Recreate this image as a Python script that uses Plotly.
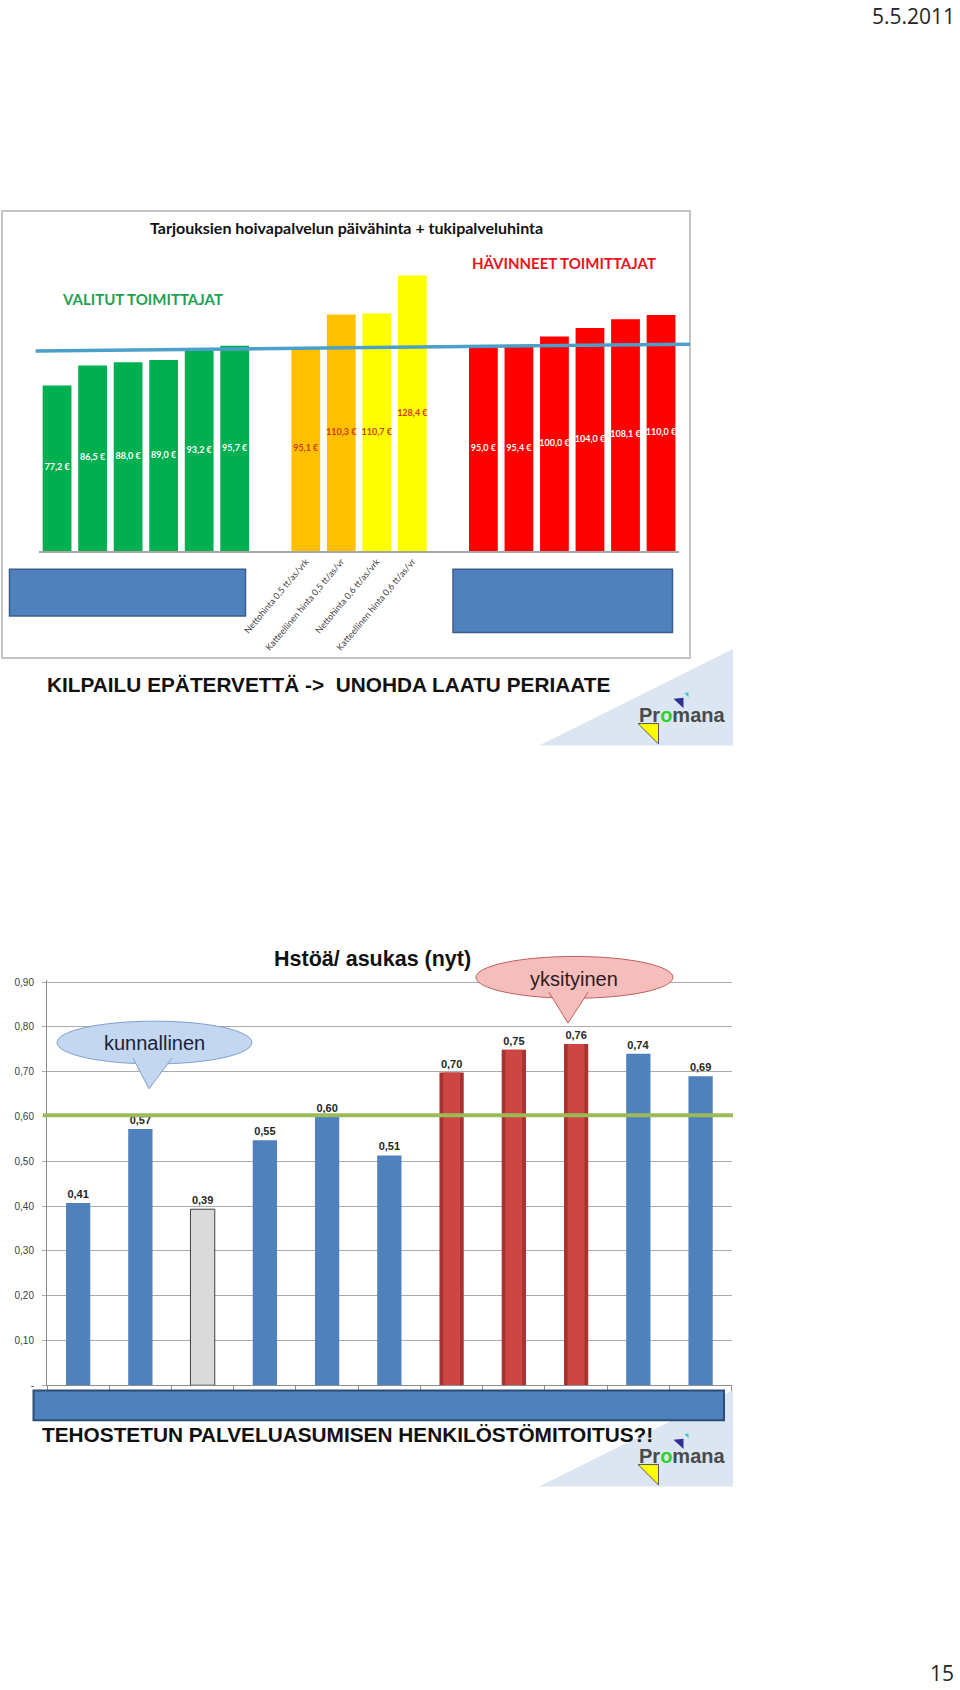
import plotly.graph_objects as go

W, H = 960, 1690

# ---------------- Data: upper chart (prices, €) ----------------
hinta_valitut = [77.2, 86.5, 88.0, 89.0, 93.2, 95.7]
hinta_vertailu = [95.1, 110.3, 110.7, 128.4]
hinta_havinneet = [95.0, 95.4, 100.0, 104.0, 108.1, 110.0]
vertailu_nimet = ["Nettohinta 0,5 tt/as/vrk", "Katteellinen hinta 0,5 tt/as/vr",
                  "Nettohinta 0,6 tt/as/vrk", "Katteellinen hinta 0,6 tt/as/vr"]
vertailu_varit = ["#ffc000", "#ffc000", "#ffff00", "#ffff00"]
keskiviiva = [93.3, 96.4]          # level line, start / end value

# ---------------- Data: lower chart (staff per resident) ----------------
hstoa_arvot = [0.407, 0.572, 0.393, 0.547, 0.600, 0.513, 0.698, 0.749, 0.762, 0.740, 0.690]
hstoa_tyyppi = ["kunnallinen", "kunnallinen", "muu", "kunnallinen", "kunnallinen",
                "kunnallinen", "yksityinen", "yksityinen", "yksityinen",
                "kunnallinen", "kunnallinen"]
y_tikit = [0, 0.1, 0.2, 0.3, 0.4, 0.5, 0.6, 0.7, 0.8, 0.9]
y_tikkitekstit = ["-", "0,10", "0,20", "0,30", "0,40", "0,50", "0,60", "0,70", "0,80", "0,90"]
tavoitetaso = 0.603


def px(x):
    return x / W


def py(y):
    return 1 - y / H


def eur(v):
    return f"{v:.1f}".replace(".", ",") + " €"


def dec2(v):
    return f"{v:.2f}".replace(".", ",")


# group positions with one empty slot between groups
ryhmat = [hinta_valitut, hinta_vertailu, hinta_havinneet]
pos = []
alku = 0
for g in ryhmat:
    pos.append(list(range(alku, alku + len(g))))
    alku += len(g) + 1

LATO = "Lato, 'Open Sans', sans-serif"
ARIAL = "'Liberation Sans', Arial, sans-serif"

fig = go.Figure()

# ---- upper bars
bar_w = 0.81
fig.add_trace(go.Bar(x=pos[0], y=hinta_valitut, width=bar_w, marker=dict(color="#00b050", line_width=0),
                     xaxis="x", yaxis="y"))
fig.add_trace(go.Bar(x=pos[1], y=hinta_vertailu, width=bar_w, marker=dict(color=vertailu_varit, line_width=0),
                     xaxis="x", yaxis="y"))
fig.add_trace(go.Bar(x=pos[2], y=hinta_havinneet, width=bar_w, marker=dict(color="#ff0000", line_width=0),
                     xaxis="x", yaxis="y"))
label_colors = ["#ffffff", "#cc3c14", "#ffffff"]
for g, p, c in zip(ryhmat, pos, label_colors):
    fig.add_trace(go.Scatter(x=p, y=[v / 2 for v in g], mode="text", text=[eur(v) for v in g],
                             textfont=dict(family=LATO, size=9, color=c, weight="bold"),
                             xaxis="x", yaxis="y", cliponaxis=False, hoverinfo="skip"))

# ---- lower bars
idx_k = [i for i, t in enumerate(hstoa_tyyppi) if t == "kunnallinen"]
idx_m = [i for i, t in enumerate(hstoa_tyyppi) if t == "muu"]
idx_y = [i for i, t in enumerate(hstoa_tyyppi) if t == "yksityinen"]
tf = dict(family=ARIAL, size=11, color="#262626", weight="bold")
fig.add_trace(go.Bar(x=idx_k, y=[hstoa_arvot[i] for i in idx_k], width=0.39,
                     marker=dict(color="#4f81bd", line_width=0),
                     text=[dec2(hstoa_arvot[i]) for i in idx_k], textposition="outside",
                     textfont=tf, cliponaxis=False, xaxis="x2", yaxis="y2"))
fig.add_trace(go.Bar(x=idx_m, y=[hstoa_arvot[i] for i in idx_m], width=0.39,
                     marker=dict(color="#dadada", line=dict(color="#404040", width=1)),
                     text=[dec2(hstoa_arvot[i]) for i in idx_m], textposition="outside",
                     textfont=tf, cliponaxis=False, xaxis="x2", yaxis="y2"))
fig.add_trace(go.Bar(x=idx_y, y=[hstoa_arvot[i] for i in idx_y], width=0.39,
                     marker=dict(color="#a8322f", line_width=0),
                     text=[dec2(hstoa_arvot[i]) for i in idx_y], textposition="outside",
                     textfont=tf, cliponaxis=False, xaxis="x2", yaxis="y2"))
fig.add_trace(go.Bar(x=idx_y, y=[hstoa_arvot[i] for i in idx_y], width=0.27,
                     marker=dict(color="#cc4643", line_width=0),
                     xaxis="x2", yaxis="y2"))

# ---------------- layout ----------------
top_base = 550.6
top_scale = 2.155
top_max = 140
bot_base = 1388.8
bot_scale = 450
bot_max = 0.905

shapes = []
# image frame of the upper chart
shapes.append(dict(type="rect", xref="paper", yref="paper", x0=px(2), x1=px(690), y0=py(209), y1=py(658),
                   line=dict(color="#c4c4c4", width=2), fillcolor="rgba(0,0,0,0)", layer="below"))
# level line
shapes.append(dict(type="line", xref="paper", yref="y", x0=px(35.6), x1=px(690),
                   y0=keskiviiva[0], y1=keskiviiva[1], line=dict(color="#4aa0c8", width=3.5)))
# blue cover rectangles over category names
shapes.append(dict(type="rect", xref="paper", yref="paper", x0=px(9.5), x1=px(245.5), y0=py(569), y1=py(616),
                   fillcolor="#4f81bd", line=dict(color="#385d8a", width=1.5)))
shapes.append(dict(type="rect", xref="paper", yref="paper", x0=px(453), x1=px(672.5), y0=py(569), y1=py(632.5),
                   fillcolor="#4f81bd", line=dict(color="#385d8a", width=1.5)))


def tri_path(pts):
    s = "M " + " L ".join(f"{px(x)},{py(y)}" for x, y in pts)
    return s + " Z"


def logo(dy):
    out = []
    out.append(dict(type="path", xref="paper", yref="paper",
                    path=tri_path([(539, 746 + dy), (733, 746 + dy), (733, 649 + dy)]),
                    fillcolor="#dce6f2", line=dict(width=0), layer="below"))
    out.append(dict(type="path", xref="paper", yref="paper",
                    path=tri_path([(638, 724 + dy), (658.5, 724 + dy), (658.5, 744.5 + dy)]),
                    fillcolor="#ffff00", line=dict(color="#555555", width=1)))
    out.append(dict(type="path", xref="paper", yref="paper",
                    path=tri_path([(673.5, 699 + dy), (683.5, 698 + dy), (683.5, 708.5 + dy)]),
                    fillcolor="#2e3192", line=dict(width=0)))
    out.append(dict(type="path", xref="paper", yref="paper",
                    path=tri_path([(684.5, 693.5 + dy), (688.5, 692.5 + dy), (688.5, 697.5 + dy)]),
                    fillcolor="#33cccc", line=dict(width=0)))
    return out


shapes += logo(0)

# green target line in lower chart
shapes.append(dict(type="line", xref="paper", yref="y2", x0=px(43), x1=px(733),
                   y0=tavoitetaso, y1=tavoitetaso, line=dict(color="#9bbb59", width=4)))


def callout(x0, x1, y0, y1, base_l, base_r, base_y, tip, fill, edge):
    res = []
    res.append(dict(type="circle", xref="paper", yref="paper", x0=px(x0), x1=px(x1), y0=py(y1), y1=py(y0),
                    fillcolor=fill, line=dict(color=edge, width=1)))
    path = f"M {px(base_l)},{py(base_y)} L {px(tip[0])},{py(tip[1])} L {px(base_r)},{py(base_y)}"
    res.append(dict(type="path", xref="paper", yref="paper", path=path,
                    fillcolor=fill, line=dict(color=edge, width=1)))
    return res


shapes += callout(57, 252, 1023, 1066, 133, 172, 1060, (149, 1091), "#c3d7f1", "#7f9fcf")
shapes += callout(476, 673, 958, 1000, 549, 588, 994, (568, 1025), "#f5bdbc", "#c0605d")

# bottom blue rectangle and logo
shapes += logo(744.5)
shapes.append(dict(type="rect", xref="paper", yref="paper", x0=px(33.5), x1=px(724), y0=py(1394), y1=py(1424),
                   fillcolor="#4f81bd", line=dict(color="#2c4d75", width=2)))

annotations = [
    dict(text="5.5.2011", x=px(957), y=py(13), xanchor="right", yanchor="middle",
         font=dict(family="'Open Sans', sans-serif", size=21, color="#262626")),
    dict(text="15", x=px(956), y=py(1678), xanchor="right", yanchor="middle",
         font=dict(family="'Open Sans', sans-serif", size=21, color="#262626")),
    dict(text="<b>Tarjouksien hoivapalvelun päivähinta + tukipalveluhinta</b>", x=px(346), y=py(226),
         xanchor="center", yanchor="middle", font=dict(family=LATO, size=16, color="#111111")),
    dict(text="<b>HÄVINNEET TOIMITTAJAT</b>", x=px(564), y=py(261), xanchor="center", yanchor="middle",
         font=dict(family=LATO, size=15, color="#e8141c")),
    dict(text="<b>VALITUT TOIMITTAJAT</b>", x=px(142), y=py(297), xanchor="center", yanchor="middle",
         font=dict(family=LATO, size=15, color="#1fa14f")),
    dict(text="<b>KILPAILU EPÄTERVETTÄ ->  UNOHDA LAATU PERIAATE</b>", x=px(45), y=py(685),
         xanchor="left", yanchor="middle", font=dict(family=ARIAL, size=20.8, color="#111111")),
    dict(text="<b>Hstöä/ asukas (nyt)</b>", x=px(372), y=py(961), xanchor="center", yanchor="middle",
         font=dict(family=ARIAL, size=21.5, color="#111111")),
    dict(text="kunnallinen", x=px(154), y=py(1045), xanchor="center", yanchor="middle",
         font=dict(family=ARIAL, size=20, color="#1b2238")),
    dict(text="yksityinen", x=px(574), y=py(981), xanchor="center", yanchor="middle",
         font=dict(family=ARIAL, size=20, color="#2b1c1c")),
    dict(text="<b>TEHOSTETUN PALVELUASUMISEN HENKILÖSTÖMITOITUS?!</b>", x=px(40), y=py(1438),
         xanchor="left", yanchor="middle", font=dict(family=ARIAL, size=20.8, color="#111111")),
]
for dy in (0, 744.5):
    annotations.append(dict(text="<b>Pr<span style='color:#2bd12b'>o</span>mana</b>", x=px(682), y=py(715 + dy),
                            xanchor="center", yanchor="middle",
                            font=dict(family=ARIAL, size=20, color="#4a4a4a")))
for a in annotations:
    a.update(xref="paper", yref="paper", showarrow=False)

fig.update_layout(
    width=W, height=H, margin=dict(l=0, r=0, t=0, b=0),
    paper_bgcolor="white", plot_bgcolor="rgba(0,0,0,0)",
    showlegend=False, barmode="overlay",
    xaxis=dict(domain=[px(39.3), px(678.8)], range=[-0.5, 17.5], anchor="y",
               showline=True, linecolor="#a6a6a6", linewidth=1.5, showgrid=False, zeroline=False,
               tickmode="array", tickvals=pos[1], ticktext=vertailu_nimet, tickangle=-50, ticks="",
               tickfont=dict(family=LATO, size=9, color="#404040")),
    yaxis=dict(domain=[py(top_base), py(top_base - top_max * top_scale)], range=[0, top_max],
               anchor="x", visible=False),
    xaxis2=dict(domain=[px(47), px(731.7)], range=[-0.5, len(hstoa_arvot) - 0.5], anchor="y2",
                showline=True, linecolor="#8c8c8c", linewidth=1, showgrid=False, zeroline=False,
                tickmode="array", tickvals=[i - 0.5 for i in range(len(hstoa_arvot) + 1)],
                ticks="outside", ticklen=5, tickcolor="#8c8c8c", showticklabels=False),
    yaxis2=dict(domain=[py(bot_base), py(bot_base - bot_max * bot_scale)], range=[0, bot_max], anchor="x2",
                showline=True, linecolor="#8c8c8c", linewidth=1, zeroline=False,
                showgrid=True, gridcolor="#ababab", gridwidth=1,
                tickmode="array", tickvals=y_tikit, ticktext=y_tikkitekstit,
                ticks="outside", ticklen=4, tickcolor="#ababab", ticklabelstandoff=6,
                tickfont=dict(family=ARIAL, size=10, color="#404040")),
    shapes=shapes, annotations=annotations,
)

fig.write_html("out.html")
